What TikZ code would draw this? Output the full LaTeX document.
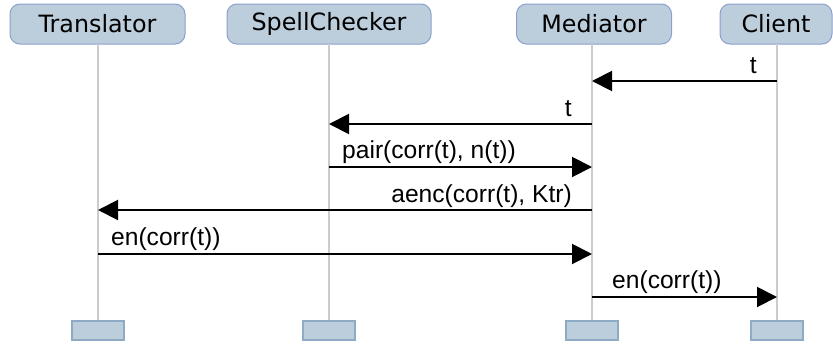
\documentclass[tikz,border=0pt]{standalone}
\usepackage{fontspec}
\setmainfont{Liberation Sans}
\newfontfamily\headfont{DejaVu Sans}
\usetikzlibrary{arrows.meta}
\definecolor{hfill}{RGB}{188,205,219}
\definecolor{hdraw}{RGB}{140,160,205}
\definecolor{bdraw}{RGB}{142,170,197}
\definecolor{life}{RGB}{204,204,204}
\tikzset{
  head/.style={draw=hdraw, fill=hfill, line width=1pt, rounded corners=10pt, minimum height=40pt, inner sep=0pt, font=\headfont\fontsize{23.8}{28}\selectfont},
  foot/.style={draw=bdraw, fill=hfill, line width=1.5pt, minimum width=52pt, minimum height=19pt, inner sep=0pt},
  lifeline/.style={draw=life, line width=2pt},
  msg/.style={draw=black, line width=2pt, -{Triangle[length=20pt,width=20pt]}},
  lbl/.style={font=\fontsize{24.6}{28}\selectfont, inner sep=0pt, anchor=base west},
  lblr/.style={font=\fontsize{24.6}{28}\selectfont, inner sep=0pt, anchor=base east}
}
\begin{document}
\begin{tikzpicture}[x=1pt,y=-1pt]
\useasboundingbox (0,0) rectangle (833,343);
% heads
\node[head, minimum width=175pt] (hT) at (97.5,24) {Translator};
\node[head, minimum width=204pt] (hS) at (329,24) {SpellChecker};
\node[head, minimum width=155pt] (hM) at (594,24) {Mediator};
\node[head, minimum width=112pt] (hC) at (776,24) {Client};
% feet
\node[foot] (fT) at (98,330.5) {};
\node[foot] (fS) at (329,330.5) {};
\node[foot] (fM) at (592,330.5) {};
\node[foot] (fC) at (777,330.5) {};
% lifelines
\coordinate (lT) at (98,44);
\coordinate (lS) at (329,44);
\coordinate (lM) at (592,44);
\coordinate (lC) at (777,44);
\draw[lifeline] (lT) -- (fT.north);
\draw[lifeline] (lS) -- (fS.north);
\draw[lifeline] (lM) -- (fM.north);
\draw[lifeline] (lC) -- (fC.north);
% message coordinates
\coordinate (m1a) at (777,81);
\coordinate (m1b) at (592,81);
\coordinate (m2a) at (592,124);
\coordinate (m2b) at (329,124);
\coordinate (m3a) at (329,167);
\coordinate (m3b) at (592,167);
\coordinate (m4a) at (592,210);
\coordinate (m4b) at (98,210);
\coordinate (m5a) at (98,254);
\coordinate (m5b) at (592,254);
\coordinate (m6a) at (592,297);
\coordinate (m6b) at (777,297);
\draw[msg] (m1a) -- (m1b);
\draw[msg] (m2a) -- (m2b);
\draw[msg] (m3a) -- (m3b);
\draw[msg] (m4a) -- (m4b);
\draw[msg] (m5a) -- (m5b);
\draw[msg] (m6a) -- (m6b);
% labels
\node[lblr] (t1) at (757,73) {t};
\node[lblr] (t2) at (572,116) {t};
\node[lbl] (t3) at (342,158) {pair(corr(t), n(t))};
\node[lblr] (t4) at (572,202) {aenc(corr(t), Ktr)};
\node[lbl] (t5) at (111,245) {en(corr(t))};
\node[lbl] (t6) at (612,288) {en(corr(t))};
\end{tikzpicture}
\end{document}
